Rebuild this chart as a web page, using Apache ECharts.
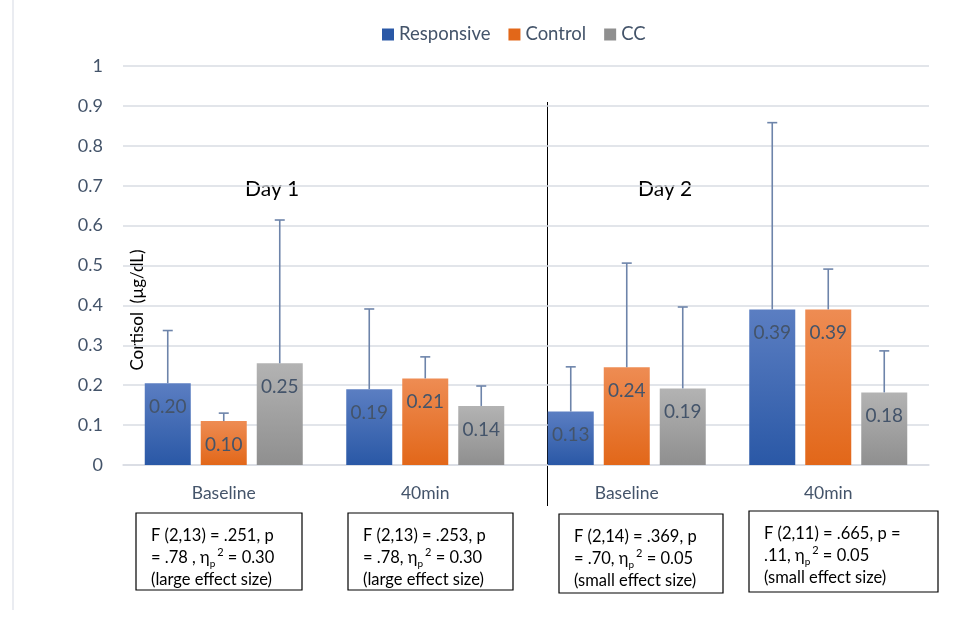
<!DOCTYPE html>
<html>
<head>
<meta charset="utf-8">
<script src="https://cdn.jsdelivr.net/npm/echarts@6/dist/echarts.min.js"></script>
<style>html,body{margin:0;padding:0;background:#fff;}#c{width:972px;height:630px;}</style>
</head>
<body>
<div id="c"></div>
<script>
var categories = ['Baseline', '40min', 'Baseline', '40min'];
var seriesNames = ['Responsive', 'Control', 'CC'];
var responsive = [0.205, 0.19, 0.134, 0.39];
var control = [0.11, 0.217, 0.245, 0.39];
var cc = [0.255, 0.148, 0.192, 0.182];
var responsiveErrTop = [0.337, 0.391, 0.246, 0.858];
var controlErrTop = [0.13, 0.271, 0.506, 0.491];
var ccErrTop = [0.614, 0.198, 0.396, 0.286];
var responsiveLabels = ['0.20', '0.19', '0.13', '0.39'];
var controlLabels = ['0.10', '0.21', '0.24', '0.39'];
var ccLabels = ['0.25', '0.14', '0.19', '0.18'];
var yTicks = [0, 0.1, 0.2, 0.3, 0.4, 0.5, 0.6, 0.7, 0.8, 0.9, 1];
var statLines = [
  ['F (2,13) = .251, p', '= .78 , η{sub|p}{sup|2} = 0.30', '(large effect size)'],
  ['F (2,13) = .253, p', '= .78, η{sub|p}{sup|2} = 0.30', '(large effect size)'],
  ['F (2,14) = .369, p', '= .70, η{sub|p}{sup|2} = 0.05', '(small effect size)'],
  ['F (2,11) = .665, p =', '.11, η{sub|p}{sup|2} = 0.05', '(small effect size)']
];

var FONT = 'Lato, "Open Sans", sans-serif';
var chart = echarts.init(document.getElementById('c'), null, {renderer: 'canvas'});

var gradients = [
  ['#5B7EC2', '#2A58A6'],
  ['#EE8C53', '#E26719'],
  ['#B3B3B3', '#8F8F8F']
];
var values = [responsive, control, cc];
var errTops = [responsiveErrTop, controlErrTop, ccErrTop];
var labels = [responsiveLabels, controlLabels, ccLabels];
var BAR_W = 46, BAR_GAP = 10;

var series = [];
seriesNames.forEach(function (name, i) {
  series.push({
    name: name,
    type: 'bar',
    barWidth: BAR_W,
    barGap: (BAR_GAP / BAR_W * 100) + '%',
    data: values[i],
    itemStyle: {
      color: new echarts.graphic.LinearGradient(0, 0, 0, 1, [
        {offset: 0, color: gradients[i][0]},
        {offset: 1, color: gradients[i][1]}
      ])
    },
    label: {
      show: true,
      position: 'insideTop',
      distance: 14,
      fontFamily: FONT,
      fontSize: 19,
      color: '#44546A',
      formatter: function (p) { return labels[i][p.dataIndex]; }
    },
    z: 2
  });
});
seriesNames.forEach(function (name, i) {
  series.push({
    type: 'custom',
    name: name + ' err',
    z: 5,
    silent: true,
    data: values[i].map(function (v, k) { return [k, v, errTops[i][k]]; }),
    renderItem: function (params, api) {
      var k = api.value(0);
      var base = api.coord([k, api.value(1)]);
      var top = api.coord([k, api.value(2)]);
      var x = base[0] + (i - 1) * (BAR_W + BAR_GAP);
      var st = {stroke: '#6D84AA', lineWidth: 1.6};
      return {
        type: 'group',
        children: [
          {type: 'line', shape: {x1: x, y1: base[1], x2: x, y2: top[1]}, style: st},
          {type: 'line', shape: {x1: x - 5, y1: top[1], x2: x + 5, y2: top[1]}, style: st}
        ]
      };
    }
  });
});

var graphics = [
  {type: 'line', shape: {x1: 13, y1: 0, x2: 13, y2: 610}, style: {stroke: '#E3E6EC', lineWidth: 1.5}},
  {type: 'line', shape: {x1: 547.5, y1: 102, x2: 547.5, y2: 506}, style: {stroke: '#000', lineWidth: 1}},
  {type: 'text', left: 245, top: 179, style: {text: 'Day 1', font: '21px ' + FONT, fill: '#000'}},
  {type: 'text', left: 638, top: 179, style: {text: 'Day 2', font: '21px ' + FONT, fill: '#000'}},
  {type: 'text', x: 138, y: 310, rotation: Math.PI / 2, style: {text: 'Cortisol  (µg/dL)', font: '17px ' + FONT, fill: '#000', align: 'center', verticalAlign: 'middle'}}
];
var boxes = [[136, 513, 166, 77], [348, 513, 165, 77], [559, 514, 164, 79], [749, 511, 189, 81]];
boxes.forEach(function (b, j) {
  graphics.push({type: 'rect', shape: {x: b[0], y: b[1], width: b[2], height: b[3]}, style: {fill: '#fff', stroke: '#000', lineWidth: 1.2}});
  graphics.push({
    type: 'text', x: b[0] + 15, y: b[1] + 12,
    style: {
      text: statLines[j].join('\n'),
      font: '16.5px ' + FONT,
      fill: '#000',
      lineHeight: 22,
      rich: {
        sub: {fontSize: 10, fontFamily: FONT, verticalAlign: 'bottom', padding: [6, 0, 0, 0], lineHeight: 22},
        sup: {fontSize: 11, fontFamily: FONT, verticalAlign: 'top', padding: [0, 0, 6, 2], lineHeight: 22}
      }
    }
  });
});

chart.setOption({
  animation: false,
  backgroundColor: '#fff',
  legend: {
    top: 20,
    left: 377,
    itemWidth: 12,
    itemHeight: 12,
    itemGap: 18,
    icon: 'rect',
    data: seriesNames.map(function (n, i) { return {name: n, itemStyle: {color: gradients[i][1]}}; }),
    textStyle: {fontFamily: FONT, fontSize: 18.5, color: '#44546A', padding: [0, 0, 0, 0]}
  },
  grid: {left: 123, right: 43, top: 66, bottom: 165, containLabel: false},
  xAxis: {
    type: 'category',
    data: categories,
    axisLine: {show: true, lineStyle: {color: '#D9DCE3', width: 1.5}},
    axisTick: {show: false},
    axisLabel: {fontFamily: FONT, fontSize: 17.5, color: '#44546A', margin: 19}
  },
  yAxis: {
    type: 'value',
    min: 0,
    max: 1,
    interval: 0.1,
    axisLine: {show: false},
    axisTick: {show: false},
    splitLine: {lineStyle: {color: '#D9DCE3', width: 1.5}},
    axisLabel: {
      fontFamily: FONT, fontSize: 18, color: '#44546A', margin: 20,
      formatter: function (v) {
        var t = yTicks.reduce(function (a, b) { return Math.abs(b - v) < Math.abs(a - v) ? b : a; });
        return String(t);
      }
    }
  },
  series: series,
  graphic: graphics
});
</script>
</body>
</html>
